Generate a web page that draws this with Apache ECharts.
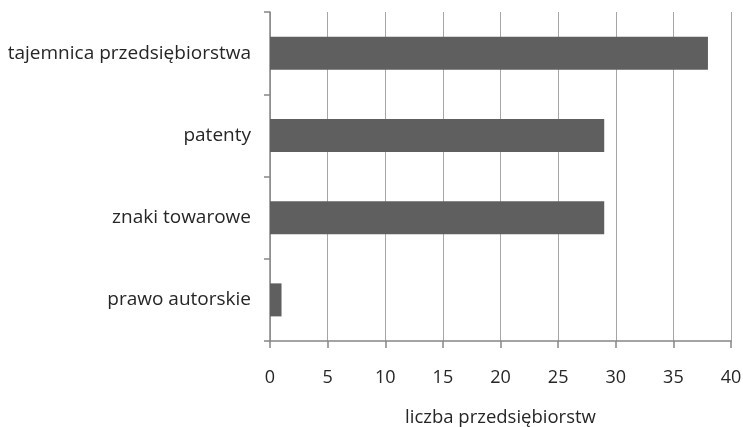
<!DOCTYPE html>
<html>
<head>
<meta charset="utf-8">
<script src="https://cdn.jsdelivr.net/npm/echarts@6/dist/echarts.min.js"></script>
<style>
  html, body { margin: 0; padding: 0; background: #fff; }
  #main { width: 743px; height: 427px; }
</style>
</head>
<body>
<div id="main"></div>
<script>
// kategorie od dołu do góry
const categories = ['prawo autorskie', 'znaki towarowe', 'patenty', 'tajemnica przedsiębiorstwa'];
const values = [1, 29, 29, 38];
const axisName = 'liczba przedsiębiorstw';

const chart = echarts.init(document.getElementById('main'));
const font = 'Open Sans';

chart.setOption({
  animation: false,
  grid: { left: 270, right: 12, top: 12, bottom: 86, outerBoundsMode: 'none' },
  xAxis: {
    type: 'value',
    min: 0,
    max: 40,
    interval: 5,
    name: axisName,
    nameLocation: 'middle',
    nameGap: 67,
    nameTextStyle: { fontFamily: font, fontSize: 18.5, color: '#262626' },
    axisLine: { show: true, lineStyle: { color: '#868686', width: 1.5 } },
    axisTick: { show: true, length: 7, lineStyle: { color: '#868686', width: 1.5 } },
    axisLabel: { margin: 28, fontFamily: font, fontSize: 18, color: '#262626' },
    splitLine: { show: true, lineStyle: { color: '#a6a6a6', width: 1 } }
  },
  yAxis: {
    type: 'category',
    data: categories,
    axisLine: { show: true, lineStyle: { color: '#868686', width: 1.5 } },
    axisTick: { show: true, length: 6, lineStyle: { color: '#868686', width: 1.5 } },
    axisLabel: { margin: 19, fontFamily: font, fontSize: 19, color: '#262626' }
  },
  series: [{
    type: 'bar',
    data: values,
    barWidth: 33,
    itemStyle: { color: '#5f5f5f' }
  }]
});
</script>
</body>
</html>
